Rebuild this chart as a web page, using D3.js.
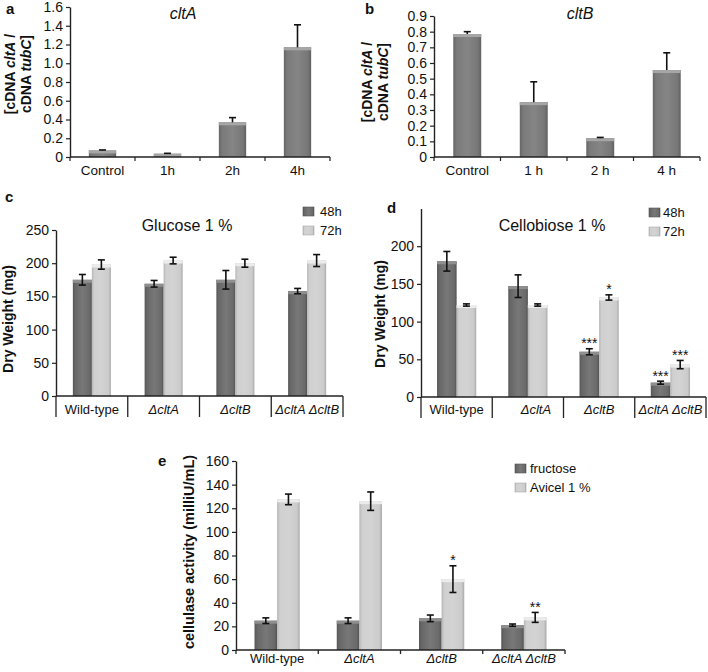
<!DOCTYPE html>
<html><head><meta charset="utf-8">
<script src="https://cdn.jsdelivr.net/npm/d3@7"></script>
<style>
body{margin:0;background:#fff;}
text{font-family:"Liberation Sans",Arial,sans-serif;fill:#111;}
</style>
</head><body>
<svg id="chart" width="708" height="672"></svg>
<script>
// ---------------- DATA ----------------
const aCategories = ["Control", "1h", "2h", "4h"];
const aValues = [0.07, 0.035, 0.37, 1.17];
const aErrors = [0.005, 0.004, 0.05, 0.24];
const aTicks = [0, 0.2, 0.4, 0.6, 0.8, 1.0, 1.2, 1.4, 1.6];

const bCategories = ["Control", "1 h", "2 h", "4 h"];
const bValues = [0.785, 0.35, 0.12, 0.555];
const bErrors = [0.015, 0.13, 0.005, 0.11];
const bTicks = [0, 0.1, 0.2, 0.3, 0.4, 0.5, 0.6, 0.7, 0.8, 0.9];

const strains = ["Wild-type", "ΔcltA", "ΔcltB", "ΔcltA ΔcltB"];
const timeSeries = ["48h", "72h"];

const c48 = [175, 169, 175, 158];
const c48Err = [8, 5, 14, 4];
const c72 = [198, 204, 200, 204];
const c72Err = [7, 5, 6, 9];
const cTicks = [0, 50, 100, 150, 200, 250];

const d48 = [180, 147, 60, 19];
const d48Err = [13, 15, 4, 2];
const d72 = [122, 122, 132, 43];
const d72Err = [1.5, 1.5, 3.5, 5.5];
const d48Sig = ["", "", "***", "***"];
const d72Sig = ["", "", "*", "***"];
const dTicks = [0, 50, 100, 150, 200];

const mediaSeries = ["fructose", "Avicel 1 %"];
const eFructose = [24.8, 24.8, 26.8, 21];
const eFructoseErr = [2.4, 2.4, 2.8, 1];
const eAvicel = [127.5, 126, 60, 27.6];
const eAvicelErr = [4.5, 7.8, 11.3, 4.2];
const eFructoseSig = ["", "", "", ""];
const eAvicelSig = ["", "", "*", "**"];
const eTicks = [0, 20, 40, 60, 80, 100, 120, 140, 160];

// ---------------- SETUP ----------------
const svg = d3.select("#chart");
const defs = svg.append("defs");
function grad(id, stops) {
  const g = defs.append("linearGradient").attr("id", id)
    .attr("x1", "0").attr("x2", "1").attr("y1", "0").attr("y2", "0");
  stops.forEach(s => g.append("stop").attr("offset", s[0]).attr("stop-color", s[1]));
}
grad("gDark", [["0%", "#575757"], ["12%", "#676767"], ["50%", "#787878"], ["88%", "#6a6a6a"], ["100%", "#525252"]]);
grad("gLight", [["0%", "#b4b4b4"], ["12%", "#d0d0d0"], ["50%", "#d3d3d3"], ["88%", "#cbcbcb"], ["100%", "#a9a9a9"]]);
grad("gMid", [["0%", "#656565"], ["12%", "#7a7a7a"], ["50%", "#858585"], ["88%", "#777"], ["100%", "#606060"]]);
const capColor = { gDark: "#8f8f8f", gLight: "#ececec", gMid: "#a6a6a6" };

function drawBar(g, x, w, yTop, yBase, fillId) {
  g.append("rect").attr("x", x).attr("y", yTop).attr("width", w).attr("height", Math.max(0, yBase - yTop))
    .attr("fill", `url(#${fillId})`);
  g.append("rect").attr("x", x).attr("y", yTop).attr("width", w).attr("height", Math.min(3, yBase - yTop))
    .attr("fill", capColor[fillId]);
}
function drawErr(g, cx, yHi, yLo, cap, bothCaps) {
  g.append("line").attr("x1", cx).attr("x2", cx).attr("y1", yHi).attr("y2", yLo)
    .attr("stroke", "#111").attr("stroke-width", 1.6);
  g.append("line").attr("x1", cx - cap).attr("x2", cx + cap).attr("y1", yHi).attr("y2", yHi)
    .attr("stroke", "#111").attr("stroke-width", 1.6);
  if (bothCaps) g.append("line").attr("x1", cx - cap).attr("x2", cx + cap).attr("y1", yLo).attr("y2", yLo)
    .attr("stroke", "#111").attr("stroke-width", 1.6);
}
function styleAxis(sel) {
  sel.selectAll("path").attr("stroke", "#222").attr("stroke-width", 1.4);
  sel.selectAll("line").attr("stroke", "#222").attr("stroke-width", 1.2);
}
function addStrainLabel(g, x, y, name, size) {
  const t = g.append("text").attr("x", x).attr("y", y).attr("text-anchor", "middle")
    .style("font-size", size + "px");
  if (name.indexOf("Δ") >= 0) t.style("font-style", "italic");
  t.text(name);
}

// ---------------- SIMPLE PANELS (a, b) ----------------
function simplePanel(opt) {
  const g = svg.append("g");
  const xb = d3.scaleBand().domain(opt.cats).range([opt.x0, opt.x1]);
  const x = d3.scaleBand().domain(opt.cats).range([opt.x0, opt.x1]).paddingInner(0.58).paddingOuter(0.29);
  const y = d3.scaleLinear().domain([0, opt.ticks[opt.ticks.length - 1]]).range([opt.y0, opt.yTop]);
  opt.cats.forEach((c, i) => {
    drawBar(g, x(c), x.bandwidth(), y(opt.values[i]), y(0), "gMid");
    drawErr(g, x(c) + x.bandwidth() / 2, y(opt.values[i] + opt.errors[i]), y(opt.values[i]), 3.5, false);
  });
  const ya = g.append("g").attr("transform", `translate(${opt.x0},0)`)
    .call(d3.axisLeft(y).tickValues(opt.ticks).tickSize(4).tickSizeOuter(0).tickPadding(3)
      .tickFormat(d => d === 0 ? "0" : d3.format(".1f")(d)));
  ya.selectAll("text").style("font-size", "14px").style("font-family", "Liberation Sans, Arial, sans-serif").attr("fill", "#222");
  styleAxis(ya);
  g.append("line").attr("x1", opt.x0).attr("x2", opt.x1).attr("y1", y(0)).attr("y2", y(0))
    .attr("stroke", "#222").attr("stroke-width", 1.4);
  opt.cats.concat(["__end"]).forEach((c, i) => {
    const bx = i < opt.cats.length ? xb(c) : opt.x1;
    g.append("line").attr("x1", bx).attr("x2", bx).attr("y1", y(0)).attr("y2", y(0) + 4)
      .attr("stroke", "#222").attr("stroke-width", 1.2);
  });
  opt.cats.forEach(c => {
    g.append("text").attr("x", xb(c) + xb.bandwidth() / 2).attr("y", 175).attr("text-anchor", "middle")
      .style("font-size", "13.5px").text(c);
  });
  g.append("text").attr("x", opt.letterX).attr("y", 14).style("font-size", "15px").style("font-weight", "bold").text(opt.letter);
  g.append("text").attr("x", opt.titleX).attr("y", 19).attr("text-anchor", "middle")
    .style("font-size", "16px").style("font-style", "italic").text(opt.title);
  const lines = [[["[cDNA ", false], ["cltA", true], [" /", false]], [["cDNA ", false], ["tubC", true], ["]", false]]];
  lines.forEach((parts, li) => {
    const t = g.append("text").attr("transform", `translate(${opt.labX[li]},${opt.labY}) rotate(-90)`)
      .attr("text-anchor", "middle").style("font-size", "14px").style("font-weight", "bold");
    parts.forEach(p => t.append("tspan").style("font-style", p[1] ? "italic" : "normal").text(p[0]));
  });
}

simplePanel({ cats: aCategories, values: aValues, errors: aErrors, ticks: aTicks,
  x0: 70, x1: 330, y0: 157, yTop: 7, letter: "a", letterX: 6, title: "cltA", titleX: 183,
  labX: [15, 31], labY: 74 });
simplePanel({ cats: bCategories, values: bValues, errors: bErrors, ticks: bTicks,
  x0: 434, x1: 700, y0: 157, yTop: 16, letter: "b", letterX: 365, title: "cltB", titleX: 580,
  labX: [372, 388], labY: 82 });

// ---------------- GROUPED PANELS (c, d, e) ----------------
function groupedPanel(opt) {
  const g = svg.append("g");
  const x0 = d3.scaleBand().domain(strains).range([opt.x0, opt.x1]);
  const groupW = x0.bandwidth() * opt.groupFrac;
  const x1 = d3.scaleBand().domain(opt.series).range([0, groupW]);
  const y = d3.scaleLinear().domain([0, opt.yMax]).range([opt.y0, opt.yTop]);
  const fills = ["gDark", "gLight"];
  strains.forEach((s, i) => {
    opt.series.forEach((ser, k) => {
      const v = opt.values[k][i], e = opt.errors[k][i];
      const bx = x0(s) + (x0.bandwidth() - groupW) / 2 + x1(ser);
      drawBar(g, bx, x1.bandwidth(), y(v), y(0), fills[k]);
      const cx = bx + x1.bandwidth() / 2;
      drawErr(g, cx, y(v + e), y(v - e), 3.5, true);
      const sig = opt.sig ? opt.sig[k][i] : "";
      if (sig) g.append("text").attr("x", cx).attr("y", y(v + e) - 0.5).attr("text-anchor", "middle")
        .style("font-size", "14px").attr("fill", "#333").text(sig);
    });
  });
  const ya = g.append("g").attr("transform", `translate(${opt.x0},0)`)
    .call(d3.axisLeft(y).tickValues(opt.ticks).tickSize(4).tickSizeOuter(0).tickPadding(3).tickFormat(d3.format("d")));
  ya.selectAll("text").style("font-size", opt.tickSize + "px").style("font-family", "Liberation Sans, Arial, sans-serif").attr("fill", "#222");
  styleAxis(ya);
  g.append("line").attr("x1", opt.x0).attr("x2", opt.x1).attr("y1", y(0)).attr("y2", y(0))
    .attr("stroke", "#222").attr("stroke-width", 1.5);
  strains.concat(["__end"]).forEach((s, i) => {
    const bx = i < strains.length ? x0(s) : opt.x1;
    g.append("line").attr("x1", bx).attr("x2", bx).attr("y1", y(0)).attr("y2", y(0) + opt.sepLen)
      .attr("stroke", "#222").attr("stroke-width", 1.3);
  });
  strains.forEach((s, i) => addStrainLabel(g, x0(s) + x0.bandwidth() / 2 + (opt.labShift ? opt.labShift[i] : 0),
    opt.labY, s, opt.labSize));
  g.append("text").attr("x", opt.letterX).attr("y", opt.letterY).style("font-size", "15px").style("font-weight", "bold").text(opt.letter);
  if (opt.title) g.append("text").attr("x", opt.titleX).attr("y", opt.titleY).attr("text-anchor", "middle")
    .style("font-size", "16px").text(opt.title);
  g.append("text").attr("transform", `translate(${opt.yLabX},${opt.yLabY}) rotate(-90)`).attr("text-anchor", "middle")
    .style("font-size", opt.yLabSize + "px").style("font-weight", "bold").text(opt.yLabel);
  opt.series.forEach((ser, k) => {
    const ly = opt.legY + k * opt.legGap;
    g.append("rect").attr("x", opt.legX).attr("y", ly).attr("width", 11).attr("height", 9)
      .attr("fill", `url(#${fills[k]})`).attr("stroke", k ? "#aaa" : "#555").attr("stroke-width", 0.6);
    g.append("text").attr("x", opt.legX + opt.legTextDx).attr("y", ly + 8.5).style("font-size", "13px").text(ser);
  });
}

groupedPanel({ series: timeSeries, values: [c48, c72], errors: [c48Err, c72Err], ticks: cTicks, yMax: 250,
  x0: 56, x1: 343, y0: 396, yTop: 230, groupFrac: 0.53, sepLen: 21, labY: 414, labSize: 13,
  tickSize: 14, letter: "c", letterX: 5, letterY: 202, title: "Glucose 1 %", titleX: 187, titleY: 231,
  yLabel: "Dry Weight (mg)", yLabX: 13, yLabY: 319, yLabSize: 14,
  legX: 303, legY: 207, legGap: 19, legTextDx: 17 });

groupedPanel({ series: timeSeries, values: [d48, d72], errors: [d48Err, d72Err], sig: [d48Sig, d72Sig],
  ticks: dTicks, yMax: 250,
  x0: 421, x1: 706, y0: 397, yTop: 208.5, groupFrac: 0.55, sepLen: 21, labY: 414, labSize: 13,
  labShift: [0, 8, 0, 0],
  tickSize: 14, letter: "d", letterX: 387, letterY: 213, title: "Cellobiose 1 %", titleX: 552, titleY: 231,
  yLabel: "Dry Weight (mg)", yLabX: 385, yLabY: 314, yLabSize: 14,
  legX: 649, legY: 208, legGap: 19, legTextDx: 14 });

groupedPanel({ series: mediaSeries, values: [eFructose, eAvicel], errors: [eFructoseErr, eAvicelErr],
  sig: [eFructoseSig, eAvicelSig], ticks: eTicks, yMax: 160,
  x0: 236, x1: 565, y0: 650, yTop: 461, groupFrac: 0.55, sepLen: 4, labY: 663, labSize: 13,
  tickSize: 14, letter: "e", letterX: 158, letterY: 466, title: null,
  yLabel: "cellulase activity (milliU/mL)", yLabX: 194, yLabY: 552, yLabSize: 14.5,
  legX: 515, legY: 464, legGap: 19, legTextDx: 15 });
</script>
</body></html>
